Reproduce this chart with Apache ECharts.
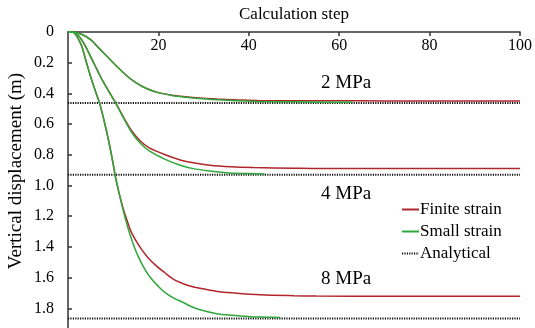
<!DOCTYPE html>
<html>
<head>
<meta charset="utf-8">
<script src="https://cdn.jsdelivr.net/npm/echarts@6/dist/echarts.min.js"></script>
<style>html,body{margin:0;padding:0;background:#fff}#c{width:535px;height:328px}</style>
</head>
<body>
<div id="c"></div>
<script>
// ---- data ----
const xTicks = [0, 20, 40, 60, 80, 100];
const yTicks = [0, 0.2, 0.4, 0.6, 0.8, 1.0, 1.2, 1.4, 1.6, 1.8];
const pressureLabels = ['2 MPa', '4 MPa', '8 MPa'];
const analyticalValues = [0.463, 0.93, 1.866];

const finite2Steps = [0, 1, 3, 5, 7, 9, 11, 13, 15, 17.5, 20, 23, 26, 29, 33, 37, 42, 50, 60, 70, 85, 100];
const finite2Vals  = [0, 0, 0.015, 0.05, 0.11, 0.17, 0.23, 0.285, 0.33, 0.37, 0.395, 0.412, 0.422, 0.43, 0.437, 0.442, 0.446, 0.448, 0.448, 0.449, 0.449, 0.449];
const small2Steps  = [0, 1, 3, 5, 7, 9, 11, 13, 15, 17.5, 20, 23, 26, 29, 33, 37, 42, 50, 57, 63];
const small2Vals   = [0, 0, 0.015, 0.05, 0.11, 0.17, 0.23, 0.285, 0.33, 0.37, 0.395, 0.413, 0.425, 0.434, 0.442, 0.448, 0.452, 0.455, 0.457, 0.458];

const finite4Steps = [0, 1, 2, 3, 4, 5, 6, 7, 8, 9, 10, 10.6, 12, 14, 16, 18, 21.5, 25, 27.7, 31.4, 36, 41, 50, 56, 70, 100];
const finite4Vals  = [0, 0, 0.015, 0.05, 0.10, 0.16, 0.22, 0.28, 0.335, 0.385, 0.435, 0.465, 0.54, 0.64, 0.71, 0.755, 0.80, 0.835, 0.852, 0.868, 0.878, 0.883, 0.887, 0.889, 0.889, 0.889];
const small4Steps  = [0, 1, 2, 3, 4, 5, 6, 7, 8, 9, 10, 10.6, 12, 14, 16, 18, 21.5, 25, 27.7, 31.4, 35.8, 40, 43.5];
const small4Vals   = [0, 0, 0.015, 0.05, 0.10, 0.16, 0.22, 0.28, 0.335, 0.385, 0.435, 0.465, 0.545, 0.65, 0.725, 0.775, 0.83, 0.87, 0.89, 0.905, 0.918, 0.922, 0.925];

const finite8Steps = [0, 1, 2, 3, 4, 5, 6, 7, 8, 9, 10, 10.4, 11.3, 12.2, 13.2, 14.1, 15.9, 17.7, 19.6, 21.5, 23.3, 25.5, 27, 29.2, 33, 36.6, 42.5, 50, 55, 70, 100];
const finite8Vals  = [0, 0, 0.03, 0.09, 0.19, 0.29, 0.38, 0.465, 0.58, 0.71, 0.86, 0.93, 1.05, 1.15, 1.24, 1.31, 1.40, 1.47, 1.525, 1.57, 1.61, 1.64, 1.655, 1.67, 1.69, 1.70, 1.712, 1.718, 1.72, 1.722, 1.722];
const small8Steps  = [0, 1, 2, 3, 4, 5, 6, 7, 8, 9, 10, 10.4, 11.3, 12.2, 13.2, 14.4, 15.5, 16.7, 18.1, 20.4, 21.8, 23.5, 25.5, 27, 29.2, 32.9, 36.6, 40.3, 44, 47];
const small8Vals   = [0, 0, 0.03, 0.09, 0.19, 0.29, 0.38, 0.465, 0.58, 0.71, 0.86, 0.93, 1.05, 1.16, 1.27, 1.38, 1.46, 1.53, 1.595, 1.67, 1.705, 1.735, 1.762, 1.785, 1.81, 1.835, 1.846, 1.855, 1.858, 1.86];

// ---- chart ----
const FONT = 'Liberation Serif';
const RED = '#b0262a';
const GREEN = '#2ea83a';
const zip = (xs, ys) => xs.map((x, i) => [x, ys[i]]);

function curve(name, color, xs, ys) {
  return {
    name: name, type: 'line', data: zip(xs, ys), symbol: 'none', showSymbol: false, smooth: 0.3,
    lineStyle: { color: color, width: 1.5 }, itemStyle: { color: color }, z: 3
  };
}
function analytical(v) {
  return {
    name: 'Analytical', type: 'line', data: [[xTicks[0], v], [xTicks[xTicks.length - 1], v]],
    symbol: 'none', showSymbol: false,
    lineStyle: { color: '#111', width: 2, type: [1.2, 1.2] }, itemStyle: { color: '#888' }, z: 2
  };
}

const series = [
  curve('Finite strain', RED, finite2Steps, finite2Vals),
  curve('Finite strain', RED, finite4Steps, finite4Vals),
  curve('Finite strain', RED, finite8Steps, finite8Vals),
  curve('Small strain', GREEN, small2Steps, small2Vals),
  curve('Small strain', GREEN, small4Steps, small4Vals),
  curve('Small strain', GREEN, small8Steps, small8Vals),
  ...analyticalValues.map(analytical)
];

const chart = echarts.init(document.getElementById('c'), null, { renderer: 'canvas' });
chart.setOption({
  animation: false,
  backgroundColor: '#fff',
  grid: { left: 68, top: 32, width: 452, height: 307, containLabel: false, outerBoundsMode: 'none' },
  xAxis: {
    type: 'value', position: 'top', min: 0, max: 100, interval: 20,
    name: 'Calculation step', nameLocation: 'middle', nameGap: 9,
    nameTextStyle: { fontFamily: FONT, fontSize: 17, color: '#000' },
    axisLine: { lineStyle: { color: '#333', width: 1.5 } },
    axisTick: { inside: true, length: 4, lineStyle: { color: '#333', width: 1.5 } },
    axisLabel: { inside: true, margin: 6, showMinLabel: false, fontFamily: FONT, fontSize: 16, color: '#000',
                 formatter: v => String(v) },
    splitLine: { show: false }
  },
  yAxis: {
    type: 'value', inverse: true, min: 0, max: 2, interval: 0.2,
    axisLine: { show: true, lineStyle: { color: '#333', width: 1.5 } },
    axisTick: { show: true, inside: true, length: 4, lineStyle: { color: '#333', width: 1.5 } },
    axisLabel: { margin: 14, fontFamily: FONT, fontSize: 16, color: '#000',
                 formatter: v => v === 0 ? '0' : v.toFixed(1) },
    splitLine: { show: false }
  },
  legend: {
    orient: 'vertical', left: 396, top: 196, itemWidth: 17, itemHeight: 8, itemGap: 5,
    itemStyle: { opacity: 0 },
    data: ['Finite strain', 'Small strain', 'Analytical'],
    textStyle: { fontFamily: FONT, fontSize: 17, color: '#000', padding: [0, 0, 0, -4] }
  },
  graphic: [
    ...pressureLabels.map((t, i) => ({
      type: 'text', left: 321, top: [74, 185, 270][i],
      style: { text: t, font: '19px "Liberation Serif"', fill: '#000' }
    })),
    {
      type: 'text', x: 16, y: 171, rotation: Math.PI / 2,
      style: { text: 'Vertical displacement (m)', font: '19px "Liberation Serif"', fill: '#000',
               align: 'center', verticalAlign: 'middle' }
    }
  ],
  series: series
});
</script>
</body>
</html>
